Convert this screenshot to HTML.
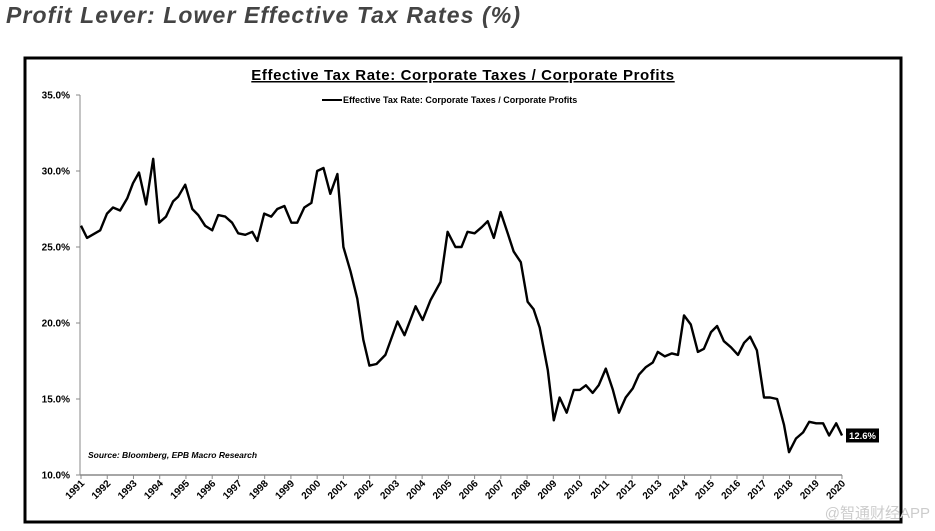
<!DOCTYPE html>
<html><head><meta charset="utf-8"><style>
body{margin:0;width:935px;height:531px;background:#fff;overflow:hidden;font-family:"Liberation Sans","Noto Sans CJK SC",sans-serif}
.h{position:absolute;left:6px;top:2px;font-size:23px;font-style:italic;font-weight:bold;color:#444;letter-spacing:1.1px}
</style></head><body>
<div class="h">Profit Lever: Lower Effective Tax Rates (%)</div>
<svg id="c" width="935" height="531" style="position:absolute;left:0;top:0">
<rect x="25" y="58" width="876" height="464" fill="none" stroke="#000" stroke-width="3"/>
<text x="463" y="80" text-anchor="middle" font-size="15" font-weight="bold" letter-spacing="0.6" text-decoration="underline">Effective Tax Rate: Corporate Taxes / Corporate Profits</text>
<line x1="322" y1="100" x2="342" y2="100" stroke="#000" stroke-width="2"/>
<text x="343" y="103" font-size="9" font-weight="bold">Effective Tax Rate: Corporate Taxes / Corporate Profits</text>
<text x="88" y="458" font-size="8.5" font-style="italic" font-weight="bold">Source: Bloomberg, EPB Macro Research</text>
<text x="930" y="518" text-anchor="end" font-size="15" fill="#ccc">@智通财经APP</text>
</svg>
<script>
const years=[1991,1991.23,1991.73,1991.99,1992.22,1992.49,1992.76,1992.98,1993.21,1993.48,1993.75,1993.98,1994.24,1994.51,1994.7,1994.97,1995.24,1995.47,1995.73,1996,1996.23,1996.5,1996.76,1996.99,1997.26,1997.53,1997.72,1997.98,1998.25,1998.48,1998.75,1999.02,1999.24,1999.51,1999.78,2000,2000.24,2000.5,2000.77,2001,2001.27,2001.53,2001.76,2001.99,2002.26,2002.6,2003.06,2003.33,2003.75,2004.02,2004.32,2004.7,2004.97,2005.27,2005.5,2005.73,2006,2006.27,2006.5,2006.73,2006.99,2007.26,2007.49,2007.76,2008.02,2008.25,2008.48,2008.79,2009.02,2009.24,2009.51,2009.78,2010.01,2010.24,2010.5,2010.73,2011,2011.27,2011.5,2011.76,2012.03,2012.26,2012.53,2012.79,2012.98,2013.25,2013.52,2013.75,2013.98,2014.24,2014.51,2014.74,2015.01,2015.24,2015.5,2015.77,2016.04,2016.27,2016.5,2016.76,2017.03,2017.26,2017.53,2017.79,2017.98,2018.25,2018.52,2018.75,2019.02,2019.28,2019.51,2019.78,2020];
const rates=[26.4,25.6,26.1,27.2,27.6,27.4,28.2,29.2,29.9,27.8,30.8,26.6,27.0,28.0,28.3,29.1,27.5,27.1,26.4,26.1,27.1,27.0,26.6,25.9,25.8,26.0,25.4,27.2,27.0,27.5,27.7,26.6,26.6,27.6,27.9,30.0,30.2,28.5,29.8,25.0,23.4,21.6,18.9,17.2,17.3,17.9,20.1,19.2,21.1,20.2,21.5,22.7,26.0,25.0,25.0,26.0,25.9,26.3,26.7,25.6,27.3,25.9,24.7,24.0,21.4,20.9,19.7,16.9,13.6,15.1,14.1,15.6,15.6,15.9,15.4,15.9,17.0,15.6,14.1,15.1,15.7,16.6,17.1,17.4,18.1,17.8,18.0,17.9,20.5,19.9,18.1,18.3,19.4,19.8,18.8,18.4,17.9,18.7,19.1,18.2,15.1,15.1,15.0,13.3,11.5,12.4,12.8,13.5,13.4,13.4,12.6,13.4,12.6];
const yTicks=[10,15,20,25,30,35];
const xTicks=[1991,1992,1993,1994,1995,1996,1997,1998,1999,2000,2001,2002,2003,2004,2005,2006,2007,2008,2009,2010,2011,2012,2013,2014,2015,2016,2017,2018,2019,2020];
const lastLabel="12.6%";
const NS="http://www.w3.org/2000/svg",svg=document.getElementById('c');
const X=v=>81+(v-1991)*26.24, Y=v=>475-(v-10)*15.2;
function mk(t,a){const e=document.createElementNS(NS,t);for(const k in a)e.setAttribute(k,a[k]);svg.appendChild(e);return e;}
const ya=mk('line',{x1:80,y1:95,x2:80,y2:475,stroke:'#888','stroke-width':1});


const xa=mk('line',{x1:80,y1:475,x2:842,y2:475,stroke:'#888','stroke-width':1.5});


yTicks.forEach(v=>{const t=mk('text',{x:70,y:Y(v)+3.5,'text-anchor':'end','font-size':10,'font-weight':'bold'});t.textContent=v.toFixed(1)+'%';


mk('line',{x1:76,y1:Y(v),x2:80,y2:Y(v),stroke:'#888'});});
xTicks.forEach(v=>{const x=X(v);mk('line',{x1:x,y1:475,x2:x,y2:479,stroke:'#888'});
const t=mk('text',{x:x+4,y:484,'text-anchor':'end','font-size':10,'font-weight':'bold',transform:`rotate(-45 ${x+4} 484)`});t.textContent=v;

});
const d=years.map((v,i)=>(i?'L':'M')+X(v).toFixed(1)+','+Y(rates[i]).toFixed(1)).join('');
const p=mk('path',{d:d,fill:'none',stroke:'#000','stroke-width':2.4,'stroke-linejoin':'round'});


const ly=Y(rates[rates.length-1]);
const b=mk('rect',{x:846,y:ly-7,width:33,height:14,fill:'#000'});


const lt=mk('text',{x:862.5,y:ly+3.5,'text-anchor':'middle','font-size':9.5,'font-weight':'bold',fill:'#fff'});lt.textContent=lastLabel;


</script>
</body></html>
